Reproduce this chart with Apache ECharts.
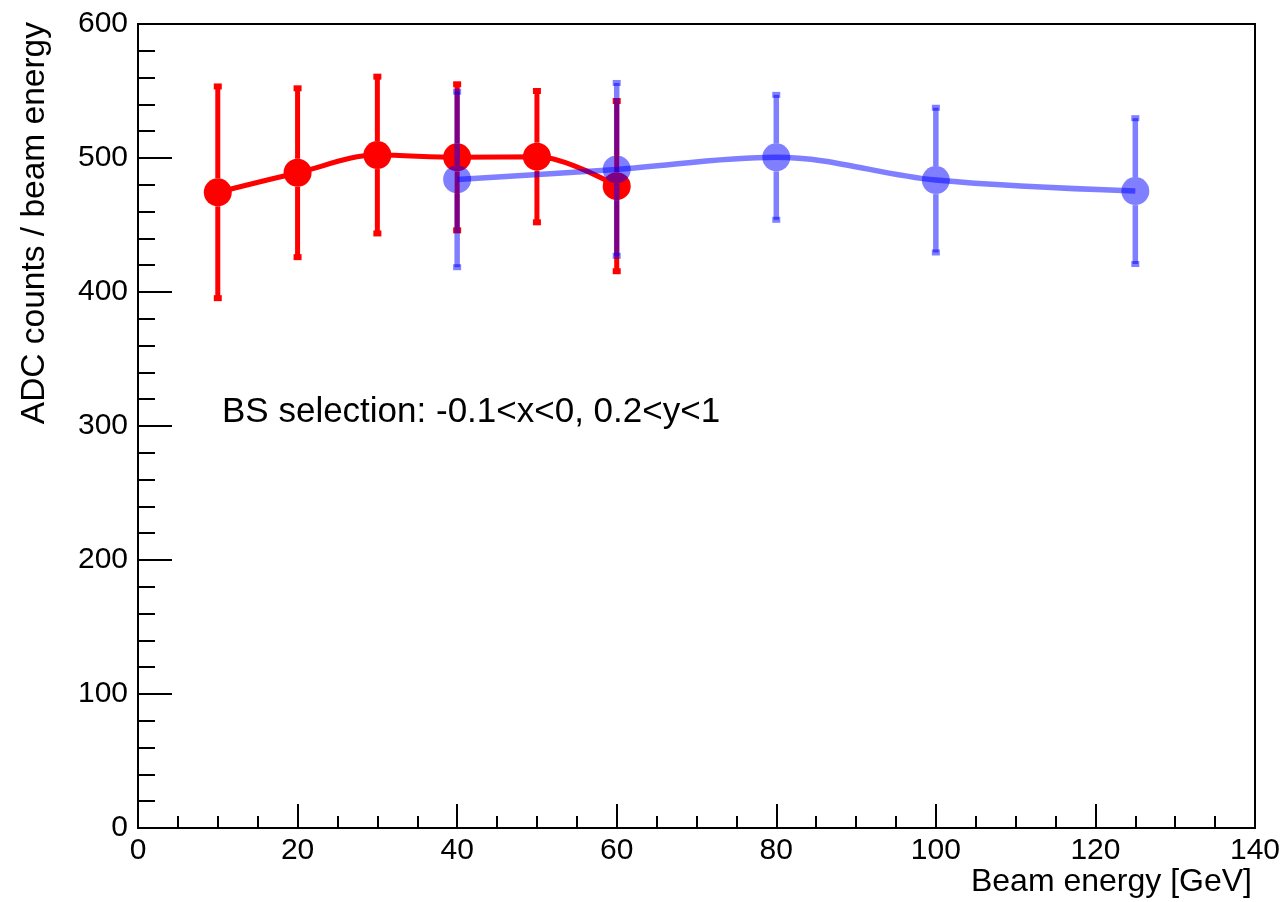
<!DOCTYPE html>
<html>
<head>
<meta charset="utf-8">
<script src="https://cdn.jsdelivr.net/npm/echarts@6/dist/echarts.min.js"></script>
<style>
html,body{margin:0;padding:0;background:#fff;}
#chart{width:1288px;height:902px;}
</style>
</head>
<body>
<div id="chart"></div>
<script>
// ---- data ----
const energyRed = [10, 20, 30, 40, 50, 60];
const adcRed    = [474.4, 489, 502.2, 500.5, 501, 479];
const errRed    = [79, 63, 58.5, 54.5, 49, 63.5];

const energyBlue = [40, 60, 80, 100, 125];
const adcBlue    = [484, 491.5, 500.5, 483.5, 475.3];
const errBlue    = [65.5, 64.5, 46.6, 54, 54.4];

const xTitle = 'Beam energy [GeV]';
const yTitle = 'ADC counts / beam energy';
const note = 'BS selection: -0.1<x<0, 0.2<y<1';

const FONT = '"Liberation Sans", Arial, Helvetica, sans-serif';
const RED = '#ff0000';
const BLUE = 'rgba(0,0,255,0.5)';
const MARK = 28;

function pairs(xs, ys) { return xs.map((x, i) => [x, ys[i]]); }
function triples(xs, ys, es) { return xs.map((x, i) => [x, ys[i], es[i]]); }

function errRender(color, width) {
  return function (params, api) {
    const x = api.value(0), y = api.value(1), e = api.value(2);
    const c = api.coord([x, y]);
    const t = api.coord([x, y + e]);
    const b = api.coord([x, y - e]);
    const r = MARK / 2;
    const children = [];
    if (t[1] < c[1] - r) {
      children.push({type: 'line', shape: {x1: c[0], y1: c[1] - r, x2: c[0], y2: t[1]},
        style: {stroke: color, lineWidth: width}});
    }
    if (b[1] > c[1] + r) {
      children.push({type: 'line', shape: {x1: c[0], y1: c[1] + r, x2: c[0], y2: b[1]},
        style: {stroke: color, lineWidth: width}});
    }
    children.push({type: 'rect', shape: {x: c[0] - 4, y: t[1] - 3, width: 8, height: 6}, style: {fill: color}});
    children.push({type: 'rect', shape: {x: c[0] - 4, y: b[1] - 3, width: 8, height: 6}, style: {fill: color}});
    return {type: 'group', children: children};
  };
}

const chart = echarts.init(document.getElementById('chart'), null, {renderer: 'canvas'});
chart.setOption({
  animation: false,
  backgroundColor: '#ffffff',
  grid: {left: 138, right: 33, top: 24, bottom: 74, show: true, borderColor: '#000', borderWidth: 2, backgroundColor: 'transparent'},
  xAxis: {
    type: 'value', min: 0, max: 140, interval: 20,
    axisLine: {show: true, onZero: false, lineStyle: {color: '#000', width: 2}},
    axisTick: {show: true, inside: true, length: 24, lineStyle: {color: '#000', width: 2}},
    minorTick: {show: true, splitNumber: 4, length: 12, lineStyle: {color: '#000', width: 2}},
    splitLine: {show: false},
    axisLabel: {color: '#000', fontSize: 30, fontFamily: FONT, margin: 8, showMinLabel: true, showMaxLabel: true}
  },
  yAxis: {
    type: 'value', min: 0, max: 600, interval: 100,
    axisLine: {show: true, onZero: false, lineStyle: {color: '#000', width: 2}},
    axisTick: {show: true, inside: true, length: 34, lineStyle: {color: '#000', width: 2}},
    minorTick: {show: true, splitNumber: 5, length: 17, lineStyle: {color: '#000', width: 2}},
    splitLine: {show: false},
    axisLabel: {color: '#000', fontSize: 30, fontFamily: FONT, margin: 10, showMinLabel: true, showMaxLabel: true}
  },
  graphic: [
    {type: 'text', x: 35, y: 22, rotation: Math.PI / 2,
      style: {text: yTitle, font: '33.5px ' + FONT, fill: '#000', align: 'right', verticalAlign: 'middle'}},
    {type: 'text', x: 1252, y: 882,
      style: {text: xTitle, font: '32px ' + FONT, fill: '#000', align: 'right', verticalAlign: 'middle'}},
    {type: 'text', x: 222, y: 412,
      style: {text: note, font: '35px ' + FONT, fill: '#000', align: 'left', verticalAlign: 'middle'}}
  ],
  series: [
    {
      type: 'line', name: 'red', data: pairs(energyRed, adcRed), smooth: 0.35,
      symbol: 'circle', symbolSize: MARK, z: 2,
      itemStyle: {color: RED}, lineStyle: {color: RED, width: 5}
    },
    {
      type: 'custom', name: 'redErr', data: triples(energyRed, adcRed, errRed), z: 2,
      renderItem: errRender(RED, 5)
    },
    {
      type: 'custom', name: 'blueErr', data: triples(energyBlue, adcBlue, errBlue), z: 3,
      renderItem: errRender(BLUE, 5.5)
    },
    {
      type: 'line', name: 'blue', data: pairs(energyBlue, adcBlue), smooth: 0.35,
      symbol: 'circle', symbolSize: MARK, z: 4,
      itemStyle: {color: BLUE}, lineStyle: {color: BLUE, width: 5.5}
    }
  ]
});
</script>
</body>
</html>
